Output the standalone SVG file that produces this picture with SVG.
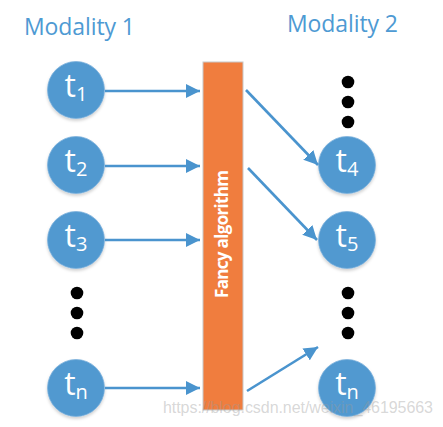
<svg xmlns="http://www.w3.org/2000/svg" width="443" height="427" viewBox="0 0 443 427">
<defs>
<style>
.title{font-family:"Open Sans","Liberation Sans",sans-serif;font-size:23px;fill:#4E9AD3}
.node circle{fill:#5199D0;stroke:#7FB3DD;stroke-width:0.8;filter:url(#sh)}
.node text{font-family:"Open Sans","Liberation Sans",sans-serif;font-size:32px;fill:#fff;text-anchor:middle}
.node tspan{font-size:20px}
.dot{fill:#000}
.conn line{stroke:#4A94CE;stroke-width:2.6;marker-end:url(#ah)}
.bar{fill:#F07D3E;stroke:#C8C8C8;stroke-width:1}
.bartext{font-family:"Open Sans","Liberation Sans",sans-serif;font-weight:bold;font-size:17px;fill:#fff;text-anchor:middle}
.wm{font-family:"Liberation Sans",Arial,sans-serif;font-size:16px;fill:#9a9a9a;fill-opacity:0.4}
</style>
<filter id="sh" x="-20%" y="-20%" width="140%" height="150%">
<feDropShadow dx="0" dy="2" stdDeviation="1.5" flood-color="#000" flood-opacity="0.18"/>
</filter>
<marker id="ah" markerUnits="userSpaceOnUse" markerWidth="16" markerHeight="14" refX="14" refY="7" orient="auto">
<path d="M0,0 L14,7 L0,14 Z" fill="#4A94CE"/>
</marker>
</defs>
<rect width="443" height="427" fill="#fff"/>
<text class="title" x="24" y="35" textLength="111">Modality 1</text>
<text class="title" x="287" y="32" textLength="111">Modality 2</text>
<g id="algorithm">
<rect class="bar" x="203" y="62" width="40" height="348"/>
<text class="bartext" transform="translate(228,234) rotate(-90)" x="0" y="0" textLength="128">Fancy algorithm</text>
</g>
<g id="t1" class="node"><circle cx="76" cy="90" r="28.5"/><text x="76" y="97">t<tspan dy="4">1</tspan></text></g>
<g id="t2" class="node"><circle cx="76" cy="165" r="28.5"/><text x="76" y="172">t<tspan dy="4">2</tspan></text></g>
<g id="t3" class="node"><circle cx="76" cy="240" r="28.5"/><text x="76" y="247">t<tspan dy="4">3</tspan></text></g>
<g id="tn-left" class="node"><circle cx="76" cy="388" r="28.5"/><text x="76" y="395">t<tspan dy="4">n</tspan></text></g>
<g id="t4" class="node"><circle cx="347" cy="165" r="28.5"/><text x="347" y="172">t<tspan dy="4">4</tspan></text></g>
<g id="t5" class="node"><circle cx="347" cy="240" r="28.5"/><text x="347" y="247">t<tspan dy="4">5</tspan></text></g>
<g id="tn-right" class="node"><circle cx="347" cy="388" r="28.5"/><text x="347" y="395">t<tspan dy="4">n</tspan></text></g>
<g id="dots-left">
<circle class="dot" cx="77" cy="293" r="6.3"/><circle class="dot" cx="77" cy="313" r="6.3"/><circle class="dot" cx="77" cy="333" r="6.3"/>
</g>
<g id="dots-right-top">
<circle class="dot" cx="348" cy="82" r="6.3"/><circle class="dot" cx="348" cy="102" r="6.3"/><circle class="dot" cx="348" cy="122" r="6.3"/>
</g>
<g id="dots-right-bottom">
<circle class="dot" cx="348" cy="293" r="6.3"/><circle class="dot" cx="348" cy="313" r="6.3"/><circle class="dot" cx="348" cy="333" r="6.3"/>
</g>
<g id="connectors" class="conn">
<line x1="105" y1="91" x2="200" y2="91"/>
<line x1="105" y1="166" x2="200" y2="166"/>
<line x1="105" y1="240" x2="200" y2="240"/>
<line x1="105" y1="388" x2="200" y2="388"/>
<line x1="246" y1="90" x2="318" y2="165"/>
<line x1="248" y1="168" x2="317" y2="240"/>
<line x1="247" y1="391" x2="318" y2="347"/>
</g>
<text class="wm" x="163" y="413" textLength="270">https://blog.csdn.net/weixin_46195663</text>
</svg>
